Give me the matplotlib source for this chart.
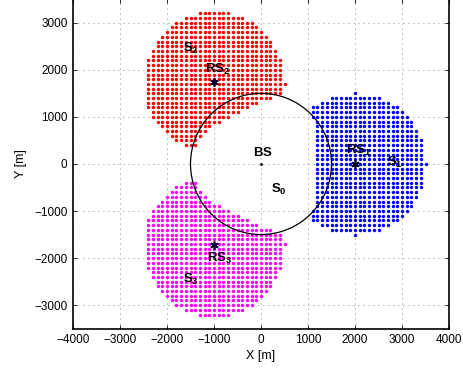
import numpy as np
import matplotlib
matplotlib.use('Agg')
import matplotlib.pyplot as plt
from matplotlib.patches import Circle

plt.rcParams['font.family'] = ['Liberation Sans', 'DejaVu Sans']
plt.rcParams['mathtext.fontset'] = 'custom'
plt.rcParams['mathtext.rm'] = 'Liberation Sans'
plt.rcParams['mathtext.bf'] = 'Liberation Sans:bold'

# ---- data ----
# station positions [m]
bs_pos = (0, 0)
rs_x = [2000, -1000, -1000]
rs_y = [0, 1732, -1732]
bs_radius = 1500
grid_step = 100

# coverage region S1 (blue): rows y, first and last x of each row
s1_y = [-1500, -1400, -1300, -1200, -1100, -1000, -900, -800, -700, -600, -500, -400, -300, -200, -100,
        0, 100, 200, 300, 400, 500, 600, 700, 800, 900, 1000, 1100, 1200, 1300, 1400, 1500]
s1_x0 = [2000, 1500, 1300, 1100, 1100, 1100, 1200, 1200, 1200, 1200, 1200, 1200, 1200, 1200, 1200,
         1200, 1200, 1200, 1200, 1200, 1200, 1200, 1200, 1200, 1200, 1100, 1100, 1100, 1300, 1500, 2000]
s1_x1 = [2000, 2500, 2700, 2900, 3000, 3100, 3200, 3200, 3300, 3300, 3400, 3400, 3400, 3400, 3400,
         3500, 3400, 3400, 3400, 3400, 3400, 3300, 3300, 3200, 3200, 3100, 3000, 2900, 2700, 2500, 2000]

# coverage region S2 (red)
s2_y = [400, 500, 600, 700, 800, 900, 1000, 1100, 1200, 1300, 1400, 1500, 1600, 1700, 1800,
        1900, 2000, 2100, 2200, 2300, 2400, 2500, 2600, 2700, 2800, 2900, 3000, 3100, 3200]
s2_x0 = [-1600, -1800, -1900, -2000, -2100, -2200, -2300, -2300, -2400, -2400, -2400, -2400, -2400, -2400, -2400,
         -2400, -2400, -2400, -2400, -2300, -2300, -2200, -2200, -2100, -2000, -1900, -1800, -1600, -1300]
s2_x1 = [-1400, -1400, -1300, -1200, -1100, -900, -700, -500, -300, -100, 200, 400, 400, 500, 400,
         400, 400, 400, 400, 300, 300, 200, 200, 100, 0, -100, -200, -400, -700]

# coverage region S3 (magenta)
s3_y = [-3200, -3100, -3000, -2900, -2800, -2700, -2600, -2500, -2400, -2300, -2200, -2100, -2000, -1900, -1800,
        -1700, -1600, -1500, -1400, -1300, -1200, -1100, -1000, -900, -800, -700, -600, -500, -400]
s3_x0 = [-1300, -1600, -1800, -1900, -2000, -2100, -2200, -2200, -2300, -2300, -2400, -2400, -2400, -2400, -2400,
         -2400, -2400, -2400, -2400, -2400, -2400, -2300, -2300, -2200, -2100, -2000, -1900, -1800, -1600]
s3_x1 = [-700, -400, -200, -100, 0, 100, 200, 200, 300, 300, 400, 400, 400, 400, 400,
         500, 400, 400, 200, -100, -300, -500, -700, -900, -1100, -1200, -1300, -1400, -1400]

x_ticks = [-4000, -3000, -2000, -1000, 0, 1000, 2000, 3000, 4000]
y_ticks = [-3000, -2000, -1000, 0, 1000, 2000, 3000]


def expand(ys, x0s, x1s):
    px, py = [], []
    for y, a, b in zip(ys, x0s, x1s):
        xs = np.arange(a, b + 1, grid_step)
        px.extend(xs)
        py.extend([y] * len(xs))
    return np.array(px), np.array(py)


fig = plt.figure(figsize=(4.63, 3.71), dpi=100)
ax = fig.add_axes([73/463, 42.3/371, 376/463, 329.5/371])
ax.set_xlim(-4000, 4000)
ax.set_ylim(-3500, 3500)
ax.set_xticks(x_ticks)
ax.set_yticks(y_ticks)
ax.grid(True, color='#666666', lw=0.6, ls=(0, (1, 5)), zorder=0)
ax.set_axisbelow(True)
ax.tick_params(direction='in', top=True, right=True, length=3, width=0.6, labelsize=8.5, pad=4)
for s in ax.spines.values():
    s.set_linewidth(1.2)

for (ys, a, b), col in [((s1_y, s1_x0, s1_x1), 'blue'),
                        ((s2_y, s2_x0, s2_x1), 'red'),
                        ((s3_y, s3_x0, s3_x1), 'magenta')]:
    px, py = expand(ys, a, b)
    ax.scatter(px, py, s=6, c=col, marker='o', linewidths=0, zorder=2)

ax.add_patch(Circle(bs_pos, bs_radius, fill=False, ec='black', lw=0.9, zorder=3))
ax.plot(rs_x, rs_y, ls='none', marker=(6, 2, 0), color='#00002a', ms=6, mew=1.2, zorder=4)
ax.plot(*bs_pos, marker='.', color='black', ms=2, zorder=4)

ax.set_xlabel('X [m]', fontsize=9, labelpad=3)
ax.set_ylabel('Y [m]', fontsize=9, labelpad=5)

fs = 9.5
ax.text(-1666, 2389, r'$\mathbf{S_2}$', fontsize=fs, va='baseline', zorder=5)
ax.text(-1191, 1930, r'$\mathbf{RS_2}$', fontsize=fs, va='baseline', zorder=5)
ax.text(1809, 213, r'$\mathbf{RS_1}$', fontsize=fs, va='baseline', zorder=5)
ax.text(2674, -43, r'$\mathbf{S_1}$', fontsize=fs, va='baseline', zorder=5)
ax.text(-1142, -2079, r'$\mathbf{RS_3}$', fontsize=fs, va='baseline', zorder=5)
ax.text(-1652, -2526, r'$\mathbf{S_3}$', fontsize=fs, va='baseline', zorder=5)
ax.text(206, -623, r'$\mathbf{S_0}$', fontsize=fs, va='baseline', zorder=5)
ax.text(-163, 170, r'$\mathbf{BS}$', fontsize=fs, va='baseline', zorder=5)

fig.savefig('out.png', dpi=100)
